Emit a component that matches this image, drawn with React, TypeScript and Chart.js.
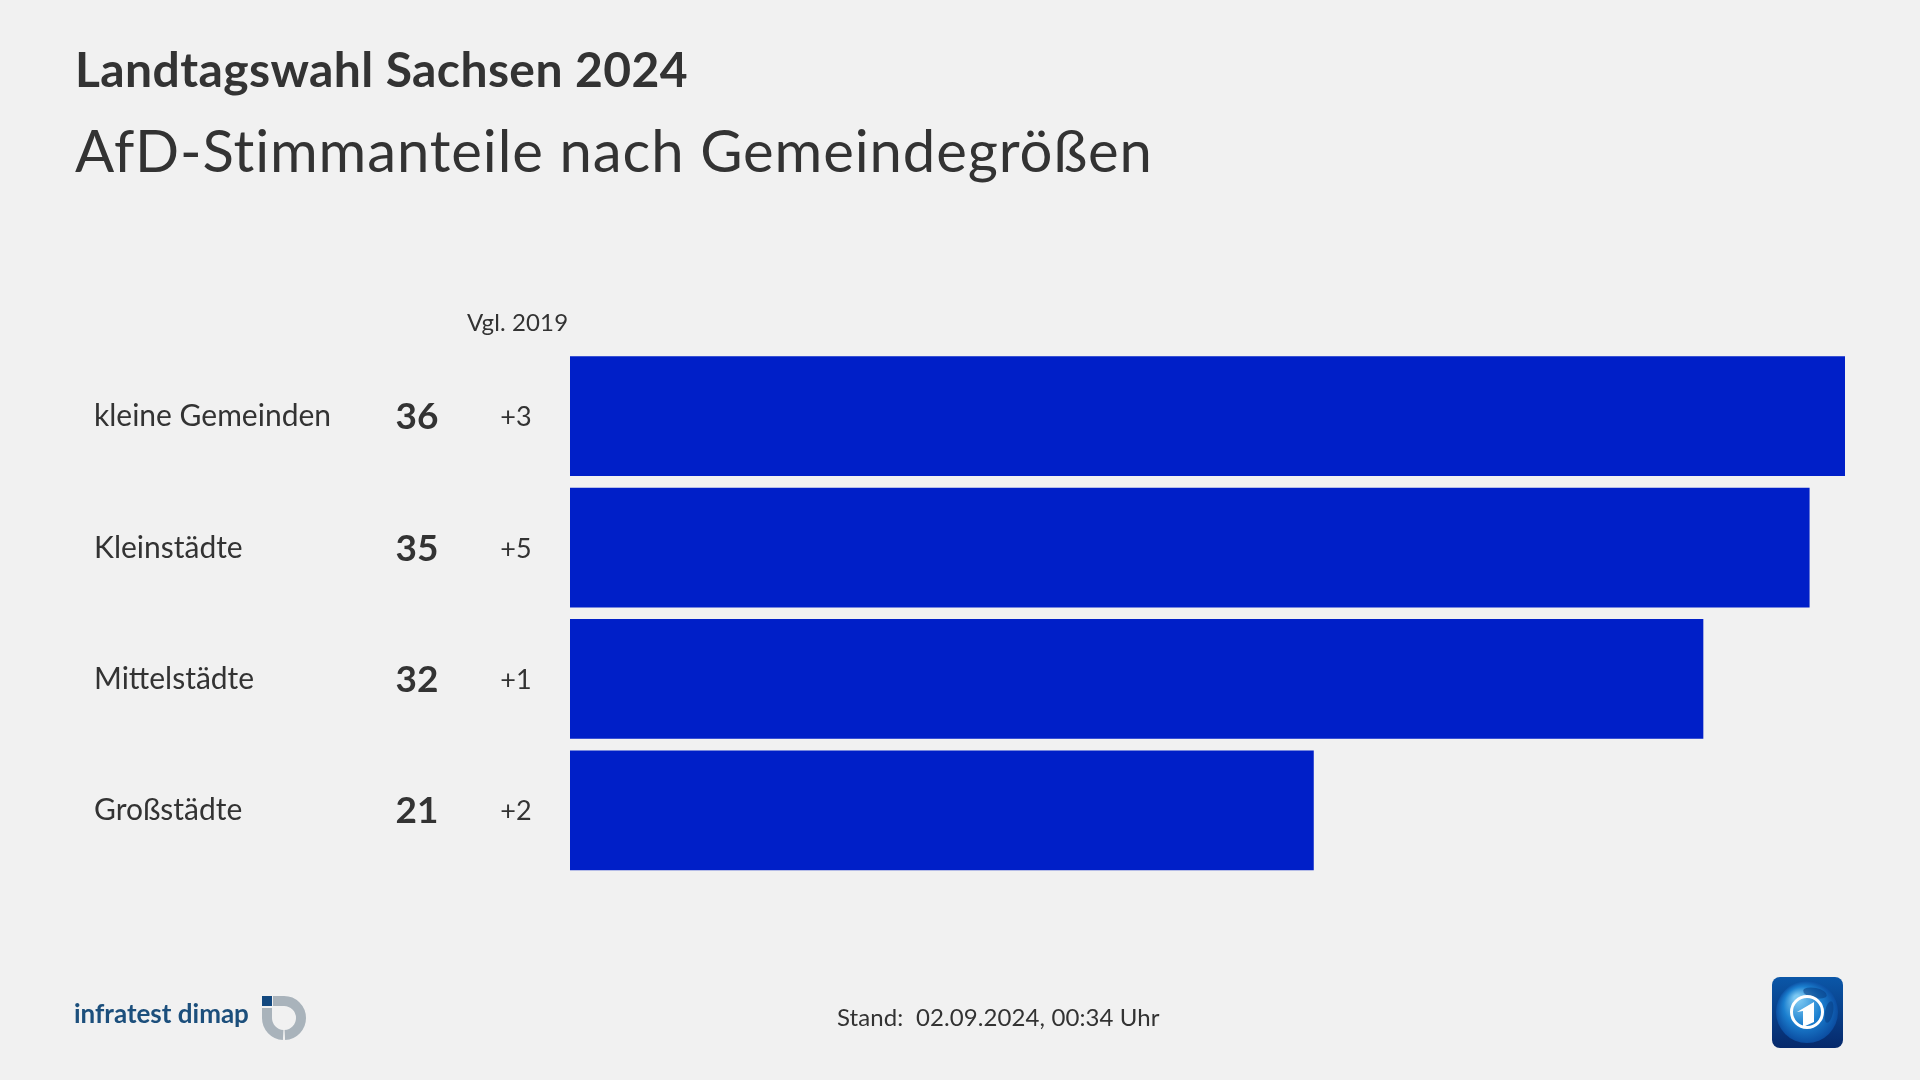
import React, { useEffect, useRef } from "react";
import { Chart, registerables } from "chart.js";

Chart.register(...registerables);

const categories = ["kleine Gemeinden", "Kleinstädte", "Mittelstädte", "Großstädte"];
const shares = [36, 35, 32, 21];
const changes = ["+3", "+5", "+1", "+2"];
const titleText = "Landtagswahl Sachsen 2024";
const subtitleText = "AfD-Stimmanteile nach Gemeindegrößen";
const changeHeader = "Vgl. 2019";
const standText = "Stand:  02.09.2024, 00:34 Uhr";
const logoText = "infratest dimap";

const FAMILY = '"Lato", "Open Sans", sans-serif';
const INK = "#333333";
const PAPER = "#f1f1f1";

function text(ctx: any, s: string, x: number, y: number, font: string, color: string, align: any = "left", spacing = "0px") {
  ctx.font = font;
  ctx.fillStyle = color;
  ctx.textAlign = align;
  ctx.textBaseline = "alphabetic";
  ctx.letterSpacing = spacing;
  ctx.fillText(s, x, y);
  ctx.letterSpacing = "0px";
}

function drawInfratest(ctx: any) {
  ctx.save();
  text(ctx, logoText, 74, 1023, `bold 26px ${FAMILY}`, "#1c4f7c");
  ctx.fillStyle = "#12487f";
  ctx.fillRect(262, 996, 10, 10);
  ctx.strokeStyle = "#a9b3bb";
  ctx.lineWidth = 10;
  ctx.beginPath();
  ctx.moveTo(273, 1001);
  ctx.lineTo(284, 1001);
  ctx.arc(284, 1018, 17, -Math.PI / 2, Math.PI / 2 - 0.05);
  ctx.stroke();
  ctx.beginPath();
  ctx.arc(284, 1018, 17, Math.PI / 2 + 0.05, Math.PI);
  ctx.lineTo(267, 1008);
  ctx.stroke();
  ctx.restore();
}

function drawTagesschau(ctx: any) {
  ctx.save();
  const g = ctx.createLinearGradient(0, 977, 0, 1048);
  g.addColorStop(0, "#0b57a8");
  g.addColorStop(1, "#06296b");
  ctx.fillStyle = g;
  ctx.beginPath();
  ctx.roundRect(1772, 977, 71, 71, 8);
  ctx.fill();
  const g2 = ctx.createRadialGradient(1797, 998, 3, 1807, 1012, 32);
  g2.addColorStop(0, "#7cc8f2");
  g2.addColorStop(0.55, "#1b7fcf");
  g2.addColorStop(1, "#0a4a9e");
  ctx.fillStyle = g2;
  ctx.beginPath();
  ctx.arc(1807, 1012, 31, 0, Math.PI * 2);
  ctx.fill();
  ctx.fillStyle = "rgba(8,60,130,0.55)";
  ctx.beginPath();
  ctx.ellipse(1815, 993, 12, 5, 0.2, 0, Math.PI * 2);
  ctx.fill();
  ctx.beginPath();
  ctx.ellipse(1829, 1012, 4, 11, 0.2, 0, Math.PI * 2);
  ctx.fill();
  ctx.strokeStyle = "#ffffff";
  ctx.lineWidth = 3;
  ctx.beginPath();
  ctx.arc(1807, 1012, 15.5, 0, Math.PI * 2);
  ctx.stroke();
  ctx.fillStyle = "#ffffff";
  ctx.beginPath();
  ctx.moveTo(1797, 1012);
  ctx.lineTo(1814, 1002);
  ctx.lineTo(1814, 1022);
  ctx.lineTo(1803, 1027);
  ctx.lineTo(1803, 1011);
  ctx.closePath();
  ctx.fill();
  ctx.restore();
}

const decorations = {
  id: "decorations",
  afterDraw(chart: any) {
    const { ctx, scales } = chart;
    const y = scales.y;
    ctx.save();
    text(ctx, titleText, 75, 87, `bold 48px ${FAMILY}`, INK, "left", "0.4px");
    text(ctx, subtitleText, 75, 172, `58px ${FAMILY}`, INK, "left", "0.9px");
    text(ctx, changeHeader, 467, 331, `24px ${FAMILY}`, INK, "left", "0.12px");
    categories.forEach((c, i) => {
      const py = y.getPixelForValue(i);
      text(ctx, c, 94, py + 10, `30px ${FAMILY}`, INK);
      text(ctx, String(shares[i]), 417, py + 13, `bold 37px ${FAMILY}`, INK, "center");
      text(ctx, changes[i], 516, py + 10, `27px ${FAMILY}`, INK, "center");
    });
    text(ctx, standText, 837, 1026, `24px ${FAMILY}`, INK, "left", "0.1px");
    drawInfratest(ctx);
    drawTagesschau(ctx);
    ctx.restore();
  },
};

export default function App() {
  const ref = useRef<HTMLCanvasElement>(null);
  useEffect(() => {
    document.body.style.margin = "0";
    document.body.style.background = PAPER;
    const chart = new Chart(ref.current as HTMLCanvasElement, {
      type: "bar",
      data: {
        labels: categories,
        datasets: [
          {
            data: shares,
            backgroundColor: "#001fc8",
            borderWidth: 0,
            barPercentage: 0.912,
            categoryPercentage: 1,
          },
        ],
      },
      options: {
        indexAxis: "y",
        responsive: false,
        animation: false,
        layout: { padding: { left: 570, right: 75, top: 350.5, bottom: 204 } },
        plugins: { legend: { display: false }, tooltip: { enabled: false }, title: { display: false } },
        scales: {
          x: { display: false, min: 0, max: 36 },
          y: { display: false },
        },
      },
      plugins: [decorations],
    });
    return () => chart.destroy();
  }, []);
  return <canvas ref={ref} width={1920} height={1080} style={{ display: "block", width: 1920, height: 1080, background: PAPER }} />;
}
